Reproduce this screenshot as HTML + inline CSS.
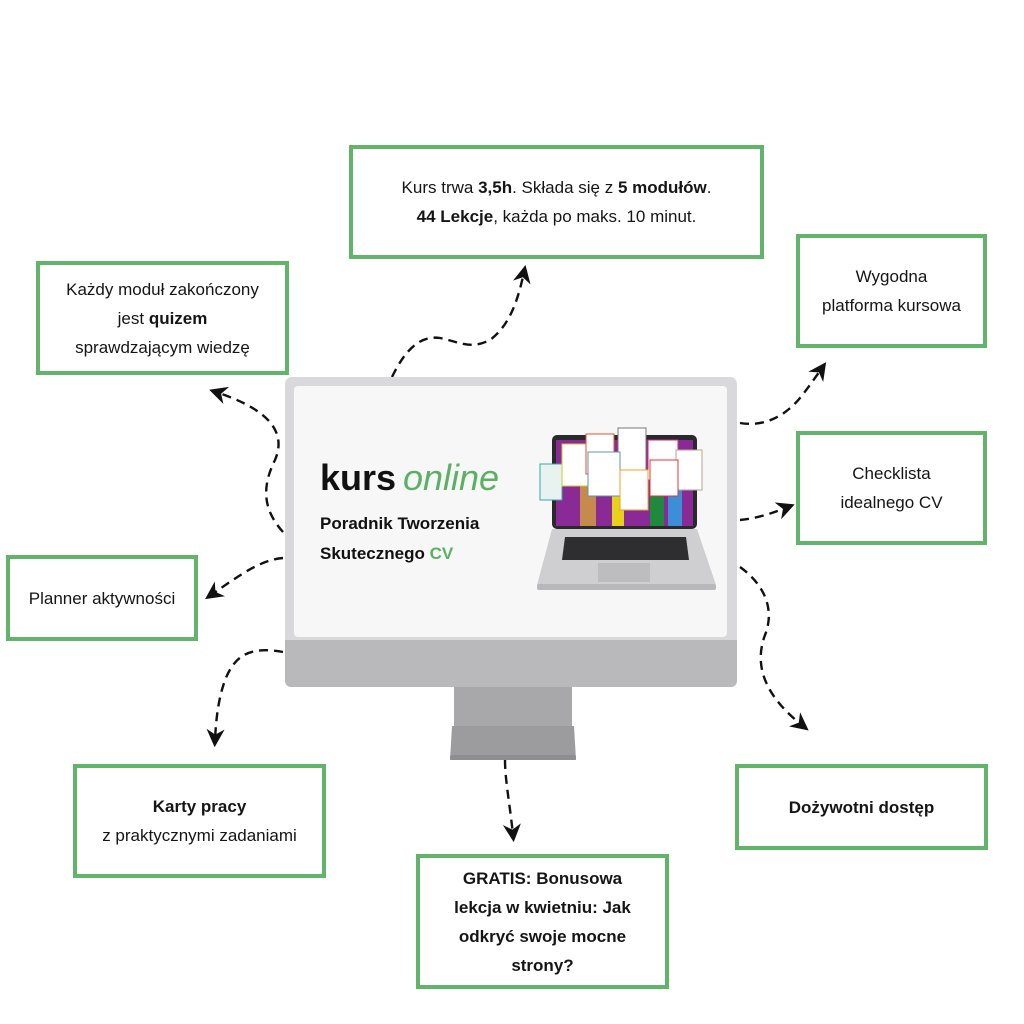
<!DOCTYPE html>
<html><head><meta charset="utf-8"><style>
html,body{margin:0;padding:0;background:#fff;}
body{width:1024px;height:1024px;position:relative;overflow:hidden;font-family:"Liberation Sans",sans-serif;color:#151515;}
.box{position:absolute;border:4px solid #62b46a;box-sizing:border-box;display:flex;align-items:center;justify-content:center;text-align:center;font-size:17px;line-height:29px;background:#fff;}
.box>div{display:block;}
b{font-weight:bold;}
</style></head><body>

<svg width="1024" height="1024" style="position:absolute;left:0;top:0">
<defs>
<marker id="ah" viewBox="0 0 10 10" refX="6" refY="5" markerWidth="7.5" markerHeight="7.5" orient="auto"><path d="M0,0 L10,5 L0,10 L3,5 Z" fill="#111"/></marker>
</defs>
<g fill="none" stroke="#111" stroke-width="2.4" stroke-dasharray="9,6" marker-end="url(#ah)">
<path d="M392,377 C405,350 420,335 440,338 C460,342 470,350 490,340 C510,325 518,300 524,272"/>
<path d="M283,532 C265,512 260,490 275,460 C290,425 255,405 216,392"/>
<path d="M283,558 C260,560 240,575 211,595"/>
<path d="M283,652 C250,646 235,655 225,680 C218,700 216,720 215,740"/>
<path d="M740,423 C770,428 790,410 800,398 C808,388 815,378 822,368"/>
<path d="M740,520 C760,518 775,512 788,507"/>
<path d="M740,567 C765,585 775,610 765,635 C752,670 770,700 803,726"/>
<path d="M505,760 C505,780 510,805 513,835"/>
</g>

<!-- monitor -->
<rect x="454" y="686" width="118" height="40" fill="#a8a8aa"/>
<path d="M452,726 L574,726 L576,760 L450,760 Z" fill="#9c9c9f"/>
<rect x="450" y="755" width="126" height="5" rx="2" fill="#8e8e91"/>
<rect x="285" y="377" width="452" height="310" rx="7" fill="#d9d9db"/>
<rect x="285" y="640" width="452" height="47" rx="6" fill="#b9b9bc"/>
<rect x="285" y="640" width="452" height="10" fill="#b9b9bc"/>
<rect x="294" y="386" width="433" height="251" rx="4" fill="#f7f7f7"/>

<!-- laptop -->
<rect x="552" y="435" width="145" height="94" rx="5" fill="#2a2a2e"/>
<rect x="556" y="440" width="137" height="86" fill="#8a2a96"/>
<rect x="580" y="470" width="16" height="56" fill="#c68a4c"/>
<rect x="612" y="470" width="12" height="56" fill="#e7d11b"/>
<rect x="650" y="480" width="14" height="46" fill="#1d8a3c"/>
<rect x="668" y="475" width="14" height="51" fill="#3c8ed6"/>
<rect x="540" y="464" width="22" height="36" fill="#e8f3f1" stroke="#3aa7a5" stroke-width="1"/>
<rect x="562" y="444" width="30" height="42" fill="#fff" stroke="#d2c822" stroke-width="1"/>
<rect x="586" y="434" width="28" height="40" fill="#fff" stroke="#e0522c" stroke-width="1"/>
<rect x="618" y="428" width="28" height="44" fill="#fff" stroke="#777" stroke-width="1"/>
<rect x="648" y="440" width="30" height="40" fill="#fff" stroke="#d42a7a" stroke-width="1"/>
<rect x="676" y="450" width="26" height="40" fill="#fff" stroke="#b4a58a" stroke-width="1"/>
<rect x="588" y="452" width="32" height="44" fill="#fff" stroke="#6090b0" stroke-width="1"/>
<rect x="620" y="470" width="28" height="40" fill="#fff" stroke="#f2a124" stroke-width="1"/>
<rect x="650" y="460" width="28" height="36" fill="#fff" stroke="#e0343c" stroke-width="1"/>
<path d="M552,529 L697,529 L716,585 L537,585 Z" fill="#cfcfd1"/>
<rect x="537" y="584" width="179" height="6" rx="2" fill="#b8b8ba"/>
<path d="M565,537 L686,537 L689,560 L562,560 Z" fill="#2e2e30"/>
<rect x="598" y="563" width="52" height="19" fill="#bdbdc0"/>

<text x="320" y="490" font-family="Liberation Sans, sans-serif" font-size="36" font-weight="bold" fill="#111">kurs</text>
<text x="403" y="490" font-family="Liberation Sans, sans-serif" font-size="36" font-style="italic" fill="#5bb163">online</text>
<text x="320" y="529" font-family="Liberation Sans, sans-serif" font-size="17" font-weight="bold" fill="#111">Poradnik Tworzenia</text>
<text x="320" y="559" font-family="Liberation Sans, sans-serif" font-size="17" font-weight="bold" fill="#111">Skutecznego <tspan fill="#5bb163">CV</tspan></text>
</svg>

<div class="box" style="left:349px;top:145px;width:415px;height:114px;"><div>Kurs trwa <b>3,5h</b>. Składa się z <b>5 modułów</b>.<br><b>44 Lekcje</b>, każda po maks. 10 minut.</div></div>
<div class="box" style="left:36px;top:261px;width:253px;height:114px;"><div>Każdy moduł zakończony<br>jest <b>quizem</b><br>sprawdzającym wiedzę</div></div>
<div class="box" style="left:796px;top:234px;width:191px;height:114px;"><div>Wygodna<br>platforma kursowa</div></div>
<div class="box" style="left:796px;top:431px;width:191px;height:114px;"><div>Checklista<br>idealnego CV</div></div>
<div class="box" style="left:6px;top:555px;width:192px;height:86px;"><div>Planner aktywności</div></div>
<div class="box" style="left:73px;top:764px;width:253px;height:114px;"><div><b>Karty pracy</b><br>z praktycznymi zadaniami</div></div>
<div class="box" style="left:735px;top:764px;width:253px;height:86px;"><div><b>Dożywotni dostęp</b></div></div>
<div class="box" style="left:416px;top:854px;width:253px;height:135px;"><div><b>GRATIS: Bonusowa<br>lekcja w kwietniu: Jak<br>odkryć swoje mocne<br>strony?</b></div></div>
</body></html>
